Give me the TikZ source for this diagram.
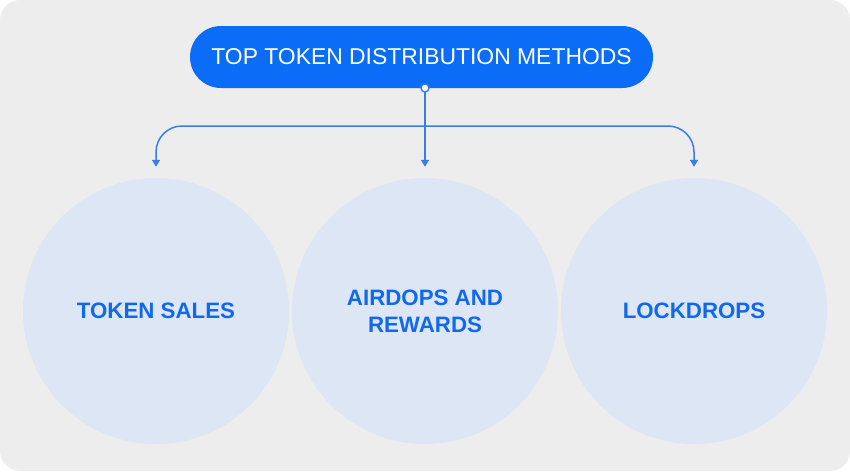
\documentclass[tikz,border=0pt]{standalone}
\usepackage{fontspec}
\setmainfont{Liberation Sans}
\usetikzlibrary{arrows.meta}

\definecolor{panelgray}{HTML}{EDEDED}
\definecolor{pillblue}{HTML}{0A6CF7}
\definecolor{linkblue}{HTML}{3A7DE8}
\definecolor{bubble}{HTML}{DCE6F5}
\definecolor{labelblue}{HTML}{1268EA}

\tikzset{
  pill/.style={fill=pillblue, rounded corners=31pt, minimum width=463pt, minimum height=62pt,
    text=white, font=\fontsize{22.9}{26}\selectfont, inner sep=0pt},
  bubblenode/.style={circle, fill=bubble, minimum size=266pt, inner sep=0pt, align=center,
    text=labelblue, font=\fontsize{22.3}{27}\selectfont\bfseries},
  link/.style={draw=linkblue, line width=1.5pt, -{Triangle[width=8pt,length=7pt]}},
}

\begin{document}
\begin{tikzpicture}[x=1pt,y=-1pt]
% Draw background panel
\fill[panelgray, rounded corners=20pt] (0,0) rectangle (850,471);
\useasboundingbox (0,0) rectangle (850,471);

% Draw title
\node[pill] (title) at (421.5,57) {TOP TOKEN DISTRIBUTION METHODS};

% Draw the three methods
\node[bubblenode] (sales) at (156,311) {TOKEN SALES};
\node[bubblenode] (airdrops) at (425,311) {AIRDOPS AND\\REWARDS};
\node[bubblenode] (lockdrops) at (694,311) {LOCKDROPS};

% Branch lines
\coordinate (hub) at (425,126);
\coordinate (knot) at (425,88);
\draw[link, rounded corners=26pt] (hub) -| ([yshift=11pt]sales.north);
\draw[link, rounded corners=26pt] (hub) -| ([yshift=11pt]lockdrops.north);
\draw[link] (knot) -- ([yshift=11pt]airdrops.north);

% Small dot under the title
\node[circle, fill=white, draw=linkblue, line width=1.4pt, minimum size=8pt, inner sep=0pt] (dot) at (knot) {};
\end{tikzpicture}
\end{document}
